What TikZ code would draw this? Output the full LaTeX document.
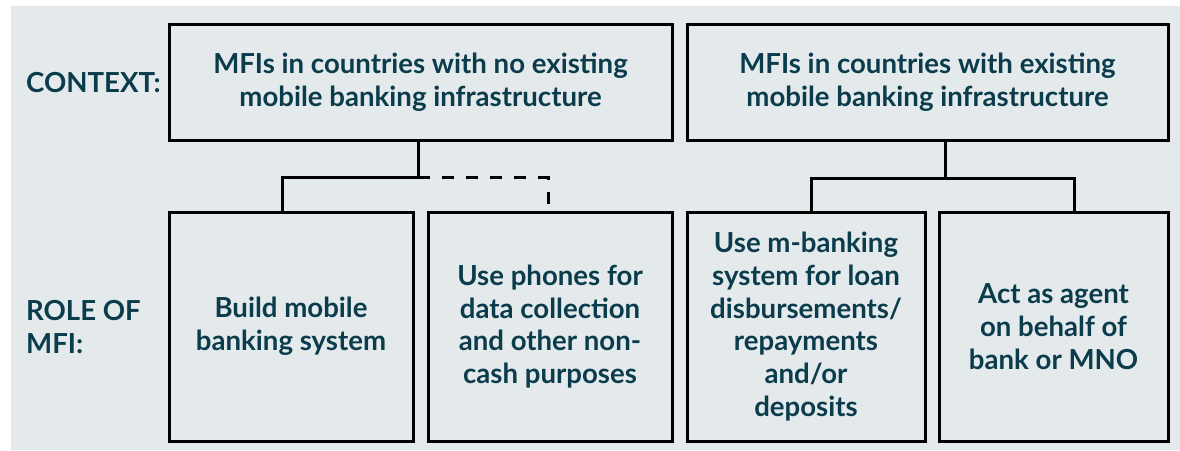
\documentclass[tikz,border=0pt]{standalone}
\usepackage{fontspec}
\newfontfamily\latofont{Lato}
\definecolor{bgcol}{HTML}{E4E9EC}
\definecolor{txtcol}{HTML}{0B3C4C}
\begin{document}
\begin{tikzpicture}[x=1pt,y=-1pt,
  every node/.style={font=\latofont\bfseries\fontsize{27.6}{32.8}\selectfont, text=txtcol, inner sep=0pt},
  box/.style={draw=black, line width=3pt, rectangle, align=center},
  link/.style={draw=black, line width=3pt},
  dashlink/.style={link, dash pattern=on 12pt off 12pt}]
\useasboundingbox (0,0) rectangle (1180,450);
\fill[bgcol] (11,6) rectangle (1180,450);
% top boxes
\node[box, minimum width=503pt, minimum height=116pt] (t1) at (420.5,82)
  {MFIs in countries with no existing\\mobile banking infrastructure};
\node[box, minimum width=481pt, minimum height=116pt] (t2) at (927.5,82)
  {MFIs in countries with existing\\mobile banking infrastructure};
% bottom boxes
\node[box, minimum width=244pt, minimum height=229pt] (b1) at (291,326.5)
  {Build mobile\\banking system};
\node[box, minimum width=244pt, minimum height=229pt] (b2) at (550,326.5)
  {Use phones for\\data collection\\and other non-\\cash purposes};
\node[box, minimum width=238pt, minimum height=229pt] (b3) at (806,326.5)
  {Use m-banking\\system for loan\\disbursements/\\repayments\\and/or\\deposits};
\node[box, minimum width=229pt, minimum height=229pt] (b4) at (1053.5,326.5)
  {Act as agent\\on behalf of\\bank or MNO};
% labels
\node[anchor=west, align=left] (lctx) at (26,83) {CONTEXT:};
\node[anchor=west, align=left] (lrole) at (26,327) {ROLE OF\\MFI:};
% left connectors
\coordinate (j1) at ([xshift=-2.5pt,yshift=-36pt]t1.south);
\draw[link] ([xshift=-2.5pt]t1.south) -- (j1);
\draw[link] (j1) -| ([xshift=-9pt]b1.north);
\draw[dashlink] (j1) -| ([xshift=-2pt]b2.north);
% right connectors
\coordinate (j2) at ([xshift=17.5pt,yshift=-37pt]t2.south);
\draw[link] ([xshift=17.5pt]t2.south) -- (j2);
\draw[link] (j2) -| ([xshift=5pt]b3.north);
\draw[link] (j2) -| ([xshift=20.5pt]b4.north);
\end{tikzpicture}
\end{document}
